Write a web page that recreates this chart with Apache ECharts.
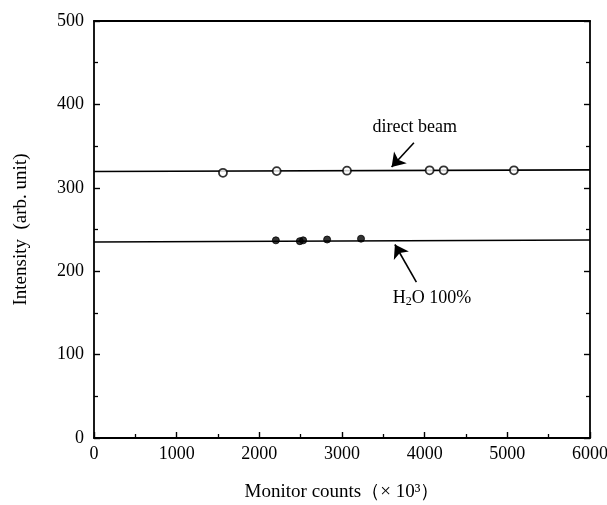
<!DOCTYPE html>
<html>
<head>
<meta charset="utf-8">
<script src="https://cdn.jsdelivr.net/npm/echarts@6/dist/echarts.min.js"></script>
<style>
html,body{margin:0;padding:0;background:#fff;}
#chart{width:607px;height:505px;}
</style>
</head>
<body>
<div id="chart"></div>
<script>
// Monitor counts (x 10^3) and measured intensities
const directX = [1560, 2210, 3060, 4060, 4230, 5080];
const directY = [318, 320, 320.5, 321, 321, 321];
const waterX = [2200, 2490, 2530, 2820, 3230];
const waterY = [237, 236, 237, 238, 239];

// Fitted horizontal lines across the whole range
const directFitX = [0, 6000];
const directFitY = [319.5, 321.5];
const waterFitX = [0, 6000];
const waterFitY = [235, 237.5];

const xTicks = [0, 1000, 2000, 3000, 4000, 5000, 6000];
const yTicks = [0, 100, 200, 300, 400, 500];

const FONT = '"Liberation Serif", "DejaVu Serif", serif';
const ink = '#000';

const pairs = (xs, ys) => xs.map((x, i) => [x, ys[i]]);

const chart = echarts.init(document.getElementById('chart'), null, {renderer: 'canvas'});

const frameLine = {show: true, onZero: false, lineStyle: {color: ink, width: 1.8}};
const inTick = {show: true, inside: true, length: 6, lineStyle: {color: ink, width: 1.4}};
const inMinor = {show: true, splitNumber: 2, length: 4, lineStyle: {color: ink, width: 1.3}};

chart.setOption({
  animation: false,
  backgroundColor: '#fff',
  grid: {left: 94, right: 17, top: 21, bottom: 67, containLabel: false, outerBoundsMode: 'none'},
  xAxis: [
    {
      type: 'value', min: xTicks[0], max: xTicks[xTicks.length - 1], interval: 1000,
      position: 'bottom',
      axisLine: frameLine, axisTick: inTick, minorTick: inMinor,
      splitLine: {show: false},
      axisLabel: {color: ink, fontFamily: FONT, fontSize: 18, margin: 7, formatter: v => String(v)},
      name: 'Monitor counts\uFF08\u00D7 10\u00B3\uFF09',
      nameLocation: 'middle', nameGap: 45,
      nameTextStyle: {color: ink, fontFamily: FONT, fontSize: 19}
    },
    {
      type: 'value', min: 0, max: 6000, interval: 1000, position: 'top',
      axisLine: frameLine, axisTick: {show: false}, axisLabel: {show: false},
      splitLine: {show: false}
    }
  ],
  yAxis: [
    {
      type: 'value', min: yTicks[0], max: yTicks[yTicks.length - 1], interval: 100,
      position: 'left',
      axisLine: frameLine, axisTick: inTick, minorTick: inMinor,
      splitLine: {show: false},
      axisLabel: {color: ink, fontFamily: FONT, fontSize: 18, margin: 10, formatter: v => String(v)},
      name: 'Intensity  (arb. unit)',
      nameLocation: 'middle', nameGap: 63,
      nameTextStyle: {color: ink, fontFamily: FONT, fontSize: 19}
    },
    {
      type: 'value', min: 0, max: 500, interval: 100, position: 'right',
      axisLine: frameLine, axisTick: inTick, minorTick: inMinor,
      axisLabel: {show: false}, splitLine: {show: false}
    }
  ],
  series: [
    {
      name: 'direct beam fit', type: 'line', data: pairs(directFitX, directFitY),
      symbol: 'none', lineStyle: {color: ink, width: 1.6}, z: 2, silent: true,
      markLine: {
        silent: true, symbol: ['none', 'arrow'], symbolSize: 13,
        lineStyle: {color: ink, width: 1.6, type: 'solid'},
        label: {show: false},
        data: [[{coord: [3870, 354]}, {coord: [3600, 325]}]]
      },
      markPoint: {
        silent: true, symbol: 'circle', symbolSize: 0,
        data: [{coord: [3880, 373]}],
        label: {show: true, formatter: 'direct beam', color: ink, fontFamily: FONT, fontSize: 18, position: 'inside'}
      }
    },
    {
      name: 'H2O fit', type: 'line', data: pairs(waterFitX, waterFitY),
      symbol: 'none', lineStyle: {color: ink, width: 1.6}, z: 2, silent: true,
      markLine: {
        silent: true, symbol: ['none', 'arrow'], symbolSize: 13,
        lineStyle: {color: ink, width: 1.6, type: 'solid'},
        label: {show: false},
        data: [[{coord: [3900, 187]}, {coord: [3640, 232]}]]
      },
      markPoint: {
        silent: true, symbol: 'circle', symbolSize: 0,
        data: [{coord: [4090, 168]}],
        label: {
          show: true, position: 'inside',
          formatter: 'H{s|2}O 100%',
          color: ink, fontFamily: FONT, fontSize: 18,
          rich: {s: {fontFamily: FONT, fontSize: 12, verticalAlign: 'bottom', padding: [8, 0, 0, 0], color: ink}}
        }
      }
    },
    {
      name: 'direct beam', type: 'scatter', data: pairs(directX, directY),
      symbol: 'circle', symbolSize: 8,
      itemStyle: {color: '#fff', borderColor: ink, borderWidth: 1.8}, z: 5
    },
    {
      name: 'H2O 100%', type: 'scatter', data: pairs(waterX, waterY),
      symbol: 'circle', symbolSize: 7,
      itemStyle: {color: ink, borderColor: ink, borderWidth: 1}, z: 5
    }
  ]
});
</script>
</body>
</html>
